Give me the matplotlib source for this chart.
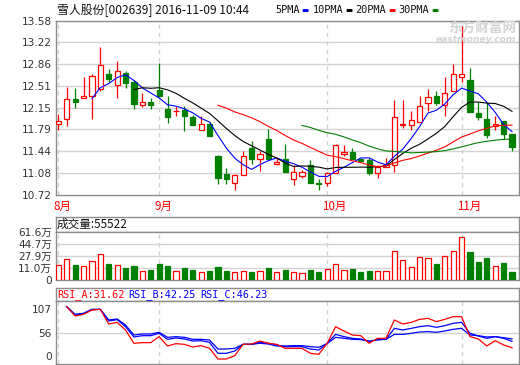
import numpy as np
import pandas as pd
import matplotlib
matplotlib.use('Agg')
import matplotlib.pyplot as plt
from matplotlib.ticker import FixedLocator, FixedFormatter

plt.rcParams['font.family'] = ['DejaVu Sans', 'Noto Sans CJK SC']

W, H = 520, 365

# ---------------- data ----------------
opens = [11.89, 11.96, 12.29, 12.31, 12.35, 12.46, 12.70, 12.53, 12.72, 12.58,
         12.20, 12.24, 12.44, 12.13, 12.09, 12.11, 12.00, 11.79, 11.89, 11.36,
         11.06, 10.91, 11.05, 11.49, 11.30, 11.64, 11.23, 11.30, 10.98, 11.02,
         11.21, 10.91, 10.92, 11.07, 11.39, 11.43, 11.30, 11.29, 11.08, 11.18,
         11.21, 11.86, 11.86, 11.91, 12.22, 12.34, 12.19, 12.42, 12.65, 12.61,
         12.07, 11.96, 11.85, 11.93, 11.72]
highs = [12.05, 12.49, 12.47, 12.65, 12.70, 13.15, 12.79, 12.92, 12.75, 12.60,
         12.39, 12.31, 12.89, 12.34, 12.17, 12.17, 12.03, 12.02, 11.91, 11.38,
         11.16, 11.06, 11.44, 11.60, 11.44, 11.80, 11.32, 11.55, 11.21, 11.13,
         11.29, 10.97, 11.10, 11.55, 11.53, 11.49, 11.31, 11.32, 11.21, 11.32,
         12.28, 12.28, 12.10, 12.35, 12.46, 12.42, 12.65, 12.87, 13.50, 12.80,
         12.25, 12.23, 12.01, 11.93, 11.72]
lows = [11.79, 11.85, 12.14, 12.31, 11.97, 12.42, 12.57, 12.31, 12.47, 12.13,
        12.16, 12.13, 12.33, 11.90, 12.01, 11.76, 11.86, 11.79, 11.68, 10.90,
        10.90, 10.79, 11.05, 11.23, 11.11, 11.31, 11.21, 11.09, 10.88, 11.00,
        10.92, 10.80, 10.87, 11.07, 11.35, 11.31, 11.27, 11.05, 11.00, 11.18,
        11.09, 11.82, 11.79, 11.91, 12.10, 12.20, 12.01, 12.42, 12.58, 12.08,
        11.95, 11.66, 11.78, 11.63, 11.44]
closes = [11.93, 12.29, 12.25, 12.34, 12.67, 12.85, 12.62, 12.75, 12.56, 12.21,
          12.24, 12.20, 12.34, 12.00, 12.10, 12.02, 11.87, 11.89, 11.69, 11.00,
          10.98, 11.04, 11.36, 11.30, 11.39, 11.31, 11.26, 11.09, 11.10, 11.10,
          10.92, 10.90, 11.07, 11.53, 11.43, 11.31, 11.28, 11.08, 11.18, 11.21,
          12.00, 11.88, 11.94, 12.17, 12.32, 12.23, 12.39, 12.71, 12.71, 12.08,
          12.00, 11.70, 11.88, 11.71, 11.50]
# volume in 万 shares
volumes = [15.4, 23.2, 15.0, 13.2, 20.3, 30.3, 16.5, 14.6, 10.8, 13.6,
           6.1, 7.9, 16.5, 13.6, 6.1, 10.8, 8.3, 4.6, 6.5, 12.2,
           6.5, 4.6, 6.9, 5.1, 6.9, 10.8, 4.6, 7.9, 4.6, 3.2,
           7.9, 5.1, 9.3, 16.0, 7.5, 9.3, 5.1, 6.5, 6.1, 6.1,
           34.5, 21.7, 11.8, 26.0, 24.6, 16.5, 27.4, 34.5, 54.5, 33.5,
           19.3, 25.0, 13.2, 17.9, 5.55]
rsi_a = [np.nan, 100.0, 84.5, 87.3, 94.5, 95.6, 71.2, 73.9, 61.2, 39.0,
         40.1, 40.1, 50.1, 34.5, 38.4, 37.3, 32.8, 35.1, 30.6, 12.8,
         12.8, 18.4, 37.3, 37.8, 42.8, 39.0, 37.3, 30.6, 30.6, 30.6,
         22.3, 20.6, 39.0, 66.7, 59.5, 52.8, 51.7, 39.0, 47.3, 47.3,
         77.8, 71.2, 73.9, 78.9, 80.6, 75.1, 78.9, 83.4, 83.4, 50.1,
         46.2, 34.5, 43.4, 36.2, 31.62]
rsi_b = [np.nan, 100.0, 86.2, 88.4, 95.1, 95.6, 76.2, 78.4, 66.7, 49.5,
         51.7, 51.7, 55.6, 45.6, 47.8, 46.2, 42.8, 43.4, 40.6, 22.3,
         22.3, 26.2, 37.3, 37.3, 40.6, 39.0, 36.2, 33.4, 33.4, 33.4,
         29.5, 27.8, 39.0, 53.9, 50.1, 47.3, 46.2, 41.7, 45.6, 45.6,
         63.9, 61.2, 63.9, 66.7, 68.4, 65.6, 68.4, 72.3, 73.9, 55.6,
         51.2, 47.3, 50.1, 47.3, 42.25]
rsi_c = [np.nan, 100.0, 87.3, 89.0, 95.6, 95.6, 77.8, 79.5, 69.5, 52.8,
         54.5, 54.5, 57.3, 48.9, 50.1, 48.9, 45.6, 45.6, 44.5, 29.5,
         29.5, 30.6, 37.3, 37.3, 39.0, 37.8, 34.5, 34.5, 35.1, 35.1,
         33.4, 32.3, 38.4, 48.9, 47.3, 45.6, 45.1, 42.8, 44.5, 45.6,
         53.9, 53.9, 55.6, 57.8, 58.4, 57.3, 59.5, 62.3, 63.9, 52.8,
         51.7, 49.5, 50.1, 48.4, 46.23]

price_ticks = [10.72, 11.0775, 11.435, 11.7925, 12.15, 12.5075, 12.865, 13.2225, 13.58]
price_labels = ['10.72', '11.08', '11.44', '11.79', '12.15', '12.51', '12.86', '13.22', '13.58']
vol_ticks = [-5.9, 11.0, 27.9, 44.7, 61.6]
vol_labels = ['0', '11.0万', '27.9万', '44.7万', '61.6万']
rsi_ticks = [18.3, 55.7, 96.2]
rsi_labels = ['0', '56', '107']
month_idx = [0, 12, 32, 48]
month_labels = ['8月', '9月', '10月', '11月']
ma_periods = [5, 10, 20, 30]
ma_names = ['5PMA', '10PMA', '20PMA', '30PMA']
title_text = '雪人股份[002639] 2016-11-09 10:44'
vol_title = '成交量:55522'
rsi_names = ['RSI_A:31.62', 'RSI_B:42.25', 'RSI_C:46.23']

# ---------------- style ----------------
RED, GREEN, BLUE, BLACK = '#ff0000', '#008000', '#0000ff', '#000000'
ma_colors = [BLUE, BLACK, RED, GREEN]
rsi_colors = [RED, BLUE, BLUE]
GRID = '#d2d2d2'
BORDER = '#8c8c8c'
TXT = '#333333'

fig = plt.figure(figsize=(W / 100, H / 100), dpi=100)
fig.patch.set_facecolor('white')


def ax_px(x0, y0, x1, y1):
    return fig.add_axes([x0 / W, 1 - y1 / H, (x1 - x0) / W, (y1 - y0) / H])


L, R = 55.7, 519.3
n = len(closes)
x = np.arange(n)
xlim = (-0.31, n - 1 + 0.87)


def frame(ax):
    for s in ax.spines.values():
        s.set_color(BORDER)
        s.set_linewidth(1.0)
    ax.set_xlim(*xlim)
    ax.set_xticks([])
    ax.tick_params(axis='y', length=0, pad=2.8, labelcolor=TXT)


o = np.array(opens); c = np.array(closes); hi = np.array(highs); lo = np.array(lows)
up = c >= o
col = np.where(up, RED, GREEN)

# ---------------- main price panel ----------------
ax = ax_px(L, 20.7, R, 194.7)
frame(ax)
ax.set_ylim(10.72, 13.58)
ax.yaxis.set_major_locator(FixedLocator(price_ticks))
ax.yaxis.set_major_formatter(FixedFormatter(price_labels))
ax.tick_params(axis='y', labelsize=7.6)
for t in price_ticks[1:-1]:
    ax.axhline(t, color=GRID, lw=1.0, zorder=0)
for m in month_idx:
    ax.axvline(m, color=GRID, lw=1.0, ls=(0, (3, 3)), zorder=0)

ax.vlines(x, lo, hi, colors=col, lw=0.9, zorder=2)
body_lo = np.minimum(o, c)
body_h = np.maximum(np.abs(c - o), 0.01)
ax.bar(x, body_h, bottom=body_lo, width=0.62,
       color=np.where(up, 'white', GREEN), edgecolor=col, linewidth=0.9, zorder=3)

cs = pd.Series(closes)
for p, mc in zip(ma_periods, ma_colors):
    ax.plot(x, cs.rolling(p).mean(), color=mc, lw=0.8, zorder=4)

# watermark
fig.text(516 / W, 1 - 28 / H, '东方财富网', fontsize=9.8, fontweight='bold',
         color='#d4d4d4', ha='right', va='center', family=['Noto Sans CJK SC'])
fig.text(516 / W, 1 - 40 / H, 'eastmoney.com', fontsize=6.6, fontweight='bold',
         style='italic', color='#d4d4d4', ha='right', va='center')

# title + legend
fig.text(57 / W, 1 - 10 / H, title_text, fontsize=8.6, color='#111111',
         ha='left', va='center', family=['Noto Sans CJK SC'])
leg_x = [275, 313, 355.5, 398]
dash_x = [301.5, 345, 388, 431.5]
for nm, lx, dx, mc in zip(ma_names, leg_x, dash_x, ma_colors):
    fig.text(lx / W, 1 - 10 / H, nm, fontsize=7.4, color='#111111',
             ha='left', va='center', family=['DejaVu Sans Mono'])
    fig.text(dx / W, 1 - 10 / H, '▬', fontsize=5.5, color=mc,
             ha='left', va='center', family=['DejaVu Sans'])

# month labels
xpix = lambda i: L + (i - xlim[0]) / (xlim[1] - xlim[0]) * (R - L)
for m, lab in zip(month_idx, month_labels):
    fig.text((xpix(m) - 4.7) / W, 1 - 206 / H, lab, fontsize=8.4, color=RED,
             ha='left', va='center', family=['Noto Sans CJK SC'])

# ---------------- volume panel ----------------
axh = ax_px(L, 216.7, R, 232.3)
frame(axh)
axh.set_yticks([])
fig.text(57 / W, 1 - 224.5 / H, vol_title, fontsize=8.4, color='#111111',
         ha='left', va='center', family=['Noto Sans CJK SC'])

axv = ax_px(L, 232.3, R, 279.7)
frame(axv)
axv.set_ylim(vol_ticks[0], vol_ticks[-1])
axv.yaxis.set_major_locator(FixedLocator(vol_ticks))
axv.yaxis.set_major_formatter(FixedFormatter(vol_labels))
axv.tick_params(axis='y', labelsize=7.6)
for t in vol_ticks[1:-1]:
    axv.axhline(t, color=GRID, lw=1.0, zorder=0)
for m in month_idx:
    axv.axvline(m, color=GRID, lw=1.0, ls=(0, (3, 3)), zorder=0)
v = np.array(volumes)
axv.bar(x, v - vol_ticks[0], bottom=vol_ticks[0], width=0.62,
        color=np.where(up, 'white', GREEN), edgecolor=col, linewidth=0.9, zorder=3)

# ---------------- RSI panel ----------------
axrh = ax_px(L, 287.7, R, 301)
frame(axrh)
axrh.set_yticks([])
rsi_tx = [57, 128.5, 200]
for nm, tx, rc in zip(rsi_names, rsi_tx, rsi_colors):
    fig.text(tx / W, 1 - 294.5 / H, nm, fontsize=7.3, color=rc,
             ha='left', va='center', family=['DejaVu Sans Mono'])

axr = ax_px(L, 301, R, 363.7)
frame(axr)
axr.set_ylim(5.0, 109.5)
axr.yaxis.set_major_locator(FixedLocator(rsi_ticks))
axr.yaxis.set_major_formatter(FixedFormatter(rsi_labels))
axr.tick_params(axis='y', labelsize=7.6)
axr.axhline(rsi_ticks[1], color=GRID, lw=1.0, zorder=0)
for m in month_idx:
    axr.axvline(m, color=GRID, lw=1.0, ls=(0, (3, 3)), zorder=0)
for series, rc in zip([rsi_c, rsi_b, rsi_a], [BLUE, BLUE, RED]):
    axr.plot(x, series, color=rc, lw=0.9, zorder=3)

fig.savefig('out.png', dpi=100, facecolor='white')
